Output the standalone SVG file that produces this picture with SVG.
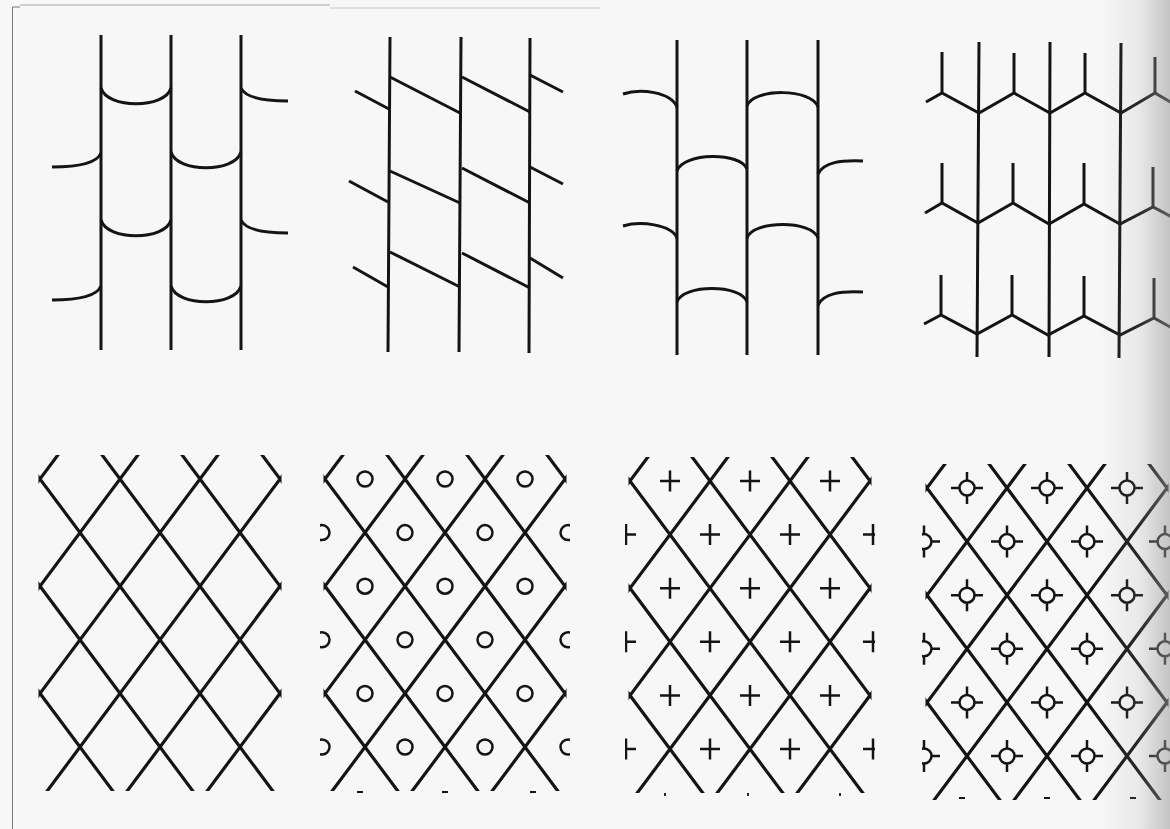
<svg xmlns="http://www.w3.org/2000/svg" width="1170" height="829" viewBox="0 0 1170 829">
<defs>
<style>
.ink{fill:none;stroke:#141414;stroke-width:3;stroke-linecap:butt;stroke-linejoin:miter}
.lat{fill:none;stroke:#141414;stroke-width:3.2}
.sym{fill:none;stroke:#141414;stroke-width:2.5}
.bit{fill:none;stroke:#141414;stroke-width:1.8}
</style>
<clipPath id="latClip"><rect x="-1.5" y="-24" width="243" height="336"/></clipPath>
<clipPath id="symClip"><rect x="-5" y="-24" width="250" height="336"/></clipPath>
<g id="lattice" class="lat"><path d="M-200,-53.6L100,348.4M-120,-53.6L180,348.4M-40,-53.6L260,348.4M40,-53.6L340,348.4M120,-53.6L420,348.4M200,-53.6L500,348.4M40,-53.6L-260,348.4M120,-53.6L-180,348.4M200,-53.6L-100,348.4M280,-53.6L-20,348.4M360,-53.6L60,348.4M440,-53.6L140,348.4"/></g>
<circle id="ring" r="7.5"/>
<path id="plus" d="M-10,0H10M0,-10.5V10.5"/>
<g id="target"><circle r="7.5"/><path d="M-16,0H-7.5M7.5,0H16M0,-16V-7.5M0,7.5V16"/></g>
<linearGradient id="shade" x1="1100" y1="0" x2="1170" y2="0" gradientUnits="userSpaceOnUse">
<stop offset="0" stop-color="#9a9a9a" stop-opacity="0"/>
<stop offset="0.55" stop-color="#9a9a9a" stop-opacity="0.15"/>
<stop offset="1" stop-color="#9a9a9a" stop-opacity="0.55"/>
</linearGradient>
</defs>
<rect width="1170" height="829" fill="#f7f7f7"/>
<g id="page-edges" fill="none">
<path d="M12.5,7V829M12.5,7H20" stroke="#777" stroke-width="1"/>
<path d="M20,5H330" stroke="#cfcfcf" stroke-width="2"/>
<path d="M330,8H600" stroke="#e0e0e0" stroke-width="2"/>
</g>

<g id="panel1" class="ink">
<path d="M101,35V350M171,35V350M241,35V350"/>
<path d="M101,88C107,109 165,109 171,88M241,88C245,97 262,101 288,101"/>
<path d="M52,167C77,167 97,163 101,153M171,152C177,173 235,173 241,152"/>
<path d="M101,220C107,241 165,241 171,220M241,220C245,229 262,233 288,233"/>
<path d="M52,300C77,300 97,296 101,286M171,286C177,307 235,307 241,286"/>
</g>

<g id="panel2" class="ink">
<path d="M390,37L388,352M461,37L459,352M530,38L529,353"/>
<path d="M390,77L460,113M462,77L530,112M530,75L563,92M355,91L389,109"/>
<path d="M390,171L460,203M462,168L530,203M530,167L563,184M349,181L388,202"/>
<path d="M390,252L460,287M462,253L530,288M530,258L563,278M353,267L388,287"/>
</g>

<g id="panel3" class="ink">
<path d="M677,40V355M747,40V355M818,40V355"/>
<path d="M623,94C640,88 671,92 677,107M747,106C753,88 812,88 818,107"/>
<path d="M677,171C683,152 741,152 747,169M818,174C824,162 841,160 863,161"/>
<path d="M623,226C640,221 671,224 677,238M747,238C753,220 812,220 818,238"/>
<path d="M677,302C683,284 741,284 747,302M818,305C824,293 841,291 863,292"/>
</g>

<g id="panel4" class="ink">
<path d="M979,42L977,357M1050,42L1049,357M1121,43L1119,358"/>
<polyline points="926,102 942,93 979,113 1014,93 1050,113 1085,93 1121,113 1155,93 1172,103"/>
<path d="M942,52V93M1014,53V93M1085,53V93M1155,57V93"/>
<polyline points="925,213 942,203 978,223 1013,203 1049,224 1084,204 1120,224 1153,207 1172,217"/>
<path d="M942,163V203M1013,163V203M1084,163V204M1153,167V207"/>
<polyline points="924,324 941,315 977,334 1012,315 1048,335 1084,316 1120,335 1154,318 1172,328"/>
<path d="M941,275V315M1012,275V315M1084,276V316M1154,278V318"/>
</g>

<g id="panel5" transform="translate(40,479)">
<use href="#lattice" clip-path="url(#latClip)"/>
</g>

<g id="panel6" transform="translate(325,479)">
<use href="#lattice" clip-path="url(#latClip)"/>
<g class="sym" clip-path="url(#symClip)">
<use href="#ring" x="40" y="0"/><use href="#ring" x="120" y="0"/><use href="#ring" x="200" y="0"/>
<use href="#ring" x="-3" y="53.6"/><use href="#ring" x="80" y="53.6"/><use href="#ring" x="160" y="53.6"/><use href="#ring" x="243" y="53.6"/>
<use href="#ring" x="40" y="107.2"/><use href="#ring" x="120" y="107.2"/><use href="#ring" x="200" y="107.2"/>
<use href="#ring" x="-3" y="160.8"/><use href="#ring" x="80" y="160.8"/><use href="#ring" x="160" y="160.8"/><use href="#ring" x="243" y="160.8"/>
<use href="#ring" x="40" y="214.4"/><use href="#ring" x="120" y="214.4"/><use href="#ring" x="200" y="214.4"/>
<use href="#ring" x="-3" y="268"/><use href="#ring" x="80" y="268"/><use href="#ring" x="160" y="268"/><use href="#ring" x="243" y="268"/>
</g>
</g>
<path class="bit" d="M357,792h6M442,792h6M530,792h6"/>

<g id="panel7" transform="translate(630,481)">
<use href="#lattice" clip-path="url(#latClip)"/>
<g class="sym" clip-path="url(#symClip)">
<use href="#plus" x="40" y="0"/><use href="#plus" x="120" y="0"/><use href="#plus" x="200" y="0"/>
<use href="#plus" x="-4" y="53.6"/><use href="#plus" x="80" y="53.6"/><use href="#plus" x="160" y="53.6"/><use href="#plus" x="243" y="53.6"/>
<use href="#plus" x="40" y="107.2"/><use href="#plus" x="120" y="107.2"/><use href="#plus" x="200" y="107.2"/>
<use href="#plus" x="-4" y="160.8"/><use href="#plus" x="80" y="160.8"/><use href="#plus" x="160" y="160.8"/><use href="#plus" x="243" y="160.8"/>
<use href="#plus" x="40" y="214.4"/><use href="#plus" x="120" y="214.4"/><use href="#plus" x="200" y="214.4"/>
<use href="#plus" x="-4" y="268"/><use href="#plus" x="80" y="268"/><use href="#plus" x="160" y="268"/><use href="#plus" x="243" y="268"/>
</g>
</g>
<path class="bit" d="M665,793v3M748,793v3M840,793v3"/>

<g id="panel8" transform="translate(927,488)">
<use href="#lattice" clip-path="url(#latClip)"/>
<g class="sym" clip-path="url(#symClip)">
<use href="#target" x="40" y="0"/><use href="#target" x="120" y="0"/><use href="#target" x="200" y="0"/>
<use href="#target" x="-3" y="53.6"/><use href="#target" x="80" y="53.6"/><use href="#target" x="160" y="53.6"/><use href="#target" x="238" y="53.6"/>
<use href="#target" x="40" y="107.2"/><use href="#target" x="120" y="107.2"/><use href="#target" x="200" y="107.2"/>
<use href="#target" x="-3" y="160.8"/><use href="#target" x="80" y="160.8"/><use href="#target" x="160" y="160.8"/><use href="#target" x="238" y="160.8"/>
<use href="#target" x="40" y="214.4"/><use href="#target" x="120" y="214.4"/><use href="#target" x="200" y="214.4"/>
<use href="#target" x="-3" y="268"/><use href="#target" x="80" y="268"/><use href="#target" x="160" y="268"/><use href="#target" x="238" y="268"/>
</g>
</g>
<path class="bit" d="M959,798h6M1044,798h6M1130,798h6"/>

<rect id="edge-shadow" x="1100" y="0" width="70" height="829" fill="url(#shade)"/>
</svg>
